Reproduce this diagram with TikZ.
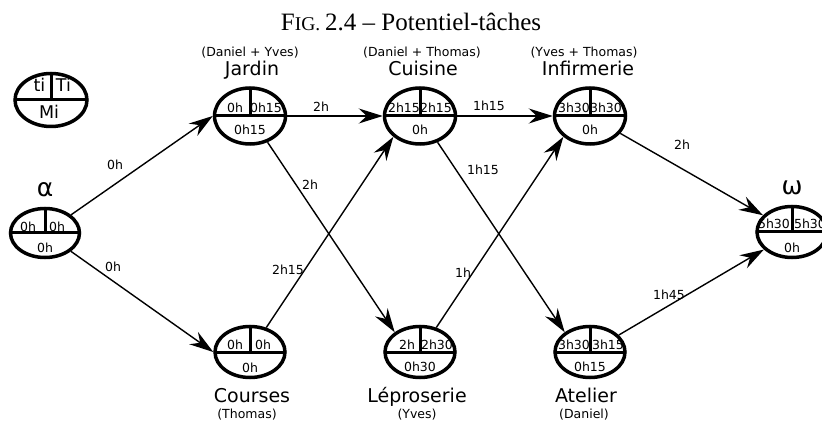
\documentclass[tikz,border=0pt]{standalone}
\usepackage{fontspec}
\setmainfont{Liberation Serif}
\newfontfamily\dvsans{DejaVu Sans}
\usetikzlibrary{shapes.geometric,arrows.meta}
\begin{document}
\begin{tikzpicture}[x=1pt,y=-1pt,
  stnode/.style={ellipse, draw, line width=3.5pt, minimum width=70pt, minimum height=51pt, inner sep=0pt,
    path picture={\draw[line width=3pt] (path picture bounding box.west) -- (path picture bounding box.east);
                  \draw[line width=3pt] (path picture bounding box.north) -- (path picture bounding box.center);}},
  upnode/.style={stnode, minimum width=71pt, minimum height=56pt},
  endnode/.style={stnode, minimum width=69pt, minimum height=49pt},
  legendnode/.style={stnode, minimum width=72pt, minimum height=53pt},
  numtext/.style={font=\dvsans\fontsize{12.5}{14}\selectfont, inner sep=0pt, anchor=base},
  elab/.style={font=\dvsans\fontsize{12.5}{14}\selectfont, inner sep=0pt},
  whotext/.style={font=\dvsans\fontsize{12.5}{14}\selectfont, inner sep=0pt, anchor=base},
  tasktext/.style={font=\dvsans\fontsize{19}{22}\selectfont, inner sep=0pt, anchor=base},
  greektext/.style={font=\dvsans\fontsize{25}{28}\selectfont, inner sep=0pt, anchor=base},
  legtext/.style={font=\dvsans\fontsize{17.5}{20}\selectfont, inner sep=0pt, anchor=base},
  conn/.style={line width=1.4pt, -{Stealth[length=24pt,width=15pt,inset=8pt]}}
]
\useasboundingbox (0,0) rectangle (822,422);

% title
\node[inner sep=0pt, anchor=base] (title) at (411,31)
  {\fontsize{25}{28}\selectfont F\fontsize{19.5}{22}\selectfont IG. \fontsize{25}{28}\selectfont 2.4 -- Potentiel-tâches};

% legend
\node[legendnode] (legend) at (51,100) {};
\node[legtext] (legti) at (39.5,92) {ti};
\node[legtext] (legTi) at (63.5,92) {Ti};
\node[legtext] (legMi) at (49,119) {Mi};

% alpha
\node[endnode] (alpha) at (45,233) {};
\node[greektext] (alphalab) at (45,197) {α};
\node[numtext] (alphatl) at (28,232) {0h};
\node[numtext] (alphatr) at (57,232) {0h};
\node[numtext] (alphab) at (45,253) {0h};

% Jardin
\node[upnode] (jardin) at (250,116) {};
\node[whotext] (jardinwho) at (250,57) {(Daniel + Yves)};
\node[tasktext] (jardinlab) at (252,76) {Jardin};
\node[numtext] (jardintl) at (235,113) {0h};
\node[numtext] (jardintr) at (266,113) {0h15};
\node[numtext] (jardinb) at (250,135) {0h15};

% Cuisine
\node[upnode] (cuisine) at (420,116) {};
\node[whotext] (cuisinewho) at (422,57) {(Daniel + Thomas)};
\node[tasktext] (cuisinelab) at (423,76) {Cuisine};
\node[numtext] (cuisinetl) at (404,113) {2h15};
\node[numtext] (cuisinetr) at (436,113) {2h15};
\node[numtext] (cuisineb) at (420,135) {0h};

% Infirmerie
\node[upnode] (infirmerie) at (590,116) {};
\node[whotext] (infirmeriewho) at (584,57) {(Yves + Thomas)};
\node[tasktext] (infirmerielab) at (588,76) {Infirmerie};
\node[numtext] (infirmerietl) at (574,113) {3h30};
\node[numtext] (infirmerietr) at (606,113) {3h30};
\node[numtext] (infirmerieb) at (590,135) {0h};

% Courses
\node[stnode] (courses) at (250,352) {};
\node[tasktext] (courseslab) at (252,402) {Courses};
\node[whotext] (courseswho) at (247,418) {(Thomas)};
\node[numtext] (coursestl) at (235,349) {0h};
\node[numtext] (coursestr) at (263,349) {0h};
\node[numtext] (coursesb) at (250,372) {0h};

% Leproserie
\node[stnode] (lepro) at (420,352) {};
\node[tasktext] (leprolab) at (417,402) {Léproserie};
\node[whotext] (leprowho) at (417,418) {(Yves)};
\node[numtext] (leprotl) at (407,349) {2h};
\node[numtext] (leprotr) at (437,349) {2h30};
\node[numtext] (leprob) at (420,371) {0h30};

% Atelier
\node[stnode] (atelier) at (590,352) {};
\node[tasktext] (atelierlab) at (586,402) {Atelier};
\node[whotext] (atelierwho) at (584,418) {(Daniel)};
\node[numtext] (ateliertl) at (574,349) {3h30};
\node[numtext] (ateliertr) at (608,349) {3h15};
\node[numtext] (atelierb) at (590,371) {0h15};

% omega
\node[stnode] (omega) at (792,232) {};
\node[greektext] (omegalab) at (792,195) {ω};
\node[numtext] (omegatl) at (774,229) {5h30};
\node[numtext] (omegatr) at (810,229) {5h30};
\node[numtext] (omegab) at (792,253) {0h};

% connectors
\draw[conn] (alpha) -- (jardin.west);
\draw[conn] (alpha) -- (courses.west);
\draw[conn] (jardin.east) -- (cuisine.west);
\draw[conn] (cuisine.east) -- (infirmerie.west);
\draw[conn] (jardin) -- (lepro.142);
\draw[conn] (cuisine) -- (atelier.142);
\draw[conn] (courses) -- (cuisine.218);
\draw[conn] (lepro) -- (infirmerie.218);
\draw[conn] (infirmerie) -- (omega.150);
\draw[conn] (atelier) -- (omega.212);

% connector labels
\node[elab] (l1) at (115,165) {0h};
\node[elab] (l2) at (113,267) {0h};
\node[elab] (l3) at (321,107) {2h};
\node[elab] (l4) at (310,185) {2h};
\node[elab] (l5) at (288,270) {2h15};
\node[elab] (l6) at (489,106) {1h15};
\node[elab] (l7) at (483,170) {1h15};
\node[elab] (l8) at (463,273) {1h};
\node[elab] (l9) at (682,145) {2h};
\node[elab] (l10) at (669,295) {1h45};
\end{tikzpicture}
\end{document}
